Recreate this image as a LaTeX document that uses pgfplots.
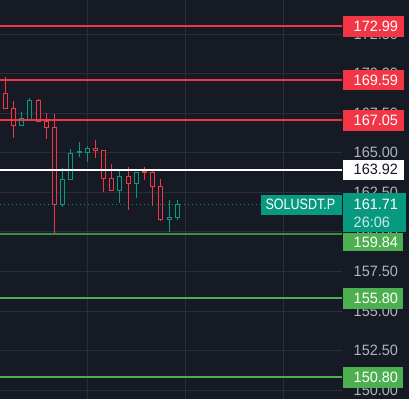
\documentclass[border=0pt]{standalone}
\usepackage{pgfplots}
\pgfplotsset{compat=1.18}
\usepackage{fontspec}
\setmainfont{Liberation Sans}
\newfontfamily\numfont[FakeStretch=0.965]{Liberation Sans}
\newfontfamily\symfont[FakeStretch=0.835]{Liberation Sans}
\definecolor{bgc}{HTML}{161A25}
\definecolor{gridc}{HTML}{2A2E39}
\definecolor{redc}{HTML}{F23645}
\definecolor{tealc}{HTML}{089981}
\definecolor{greenc}{HTML}{4CAF50}
\definecolor{greend}{HTML}{3E8E41}
\definecolor{tickc}{HTML}{B2B5BE}
\definecolor{darktxt}{HTML}{131722}
\newcommand\numf{\numfont\fontsize{15bp}{18bp}\selectfont}
\newcommand\symf{\symfont\fontsize{15bp}{18bp}\selectfont}
% x, open, high, low, close, colour
\newcommand\candle[6]{%
  \addplot[#6, line width=1bp, forget plot] coordinates {(#1,#4) (#1,#3)};
  \pgfmathsetmacro\xl{#1-0.244}\pgfmathsetmacro\xr{#1+0.244}%
  \addplot[draw=#6, fill=bgc, line width=1bp, line cap=rect, line join=miter, forget plot]
    coordinates {(\xl,#2) (\xr,#2) (\xr,#5) (\xl,#5) (\xl,#2)};
}
\begin{document}
\begin{tikzpicture}
\path[use as bounding box, fill=bgc] (0,0) rectangle (409bp,399bp);
\begin{axis}[
  at={(0,0)}, anchor=south west,
  scale only axis, width=342bp, height=399bp,
  xmin=-0.647, xmax=41.11, ymin=149.44, ymax=174.65,
  axis line style={draw=none},
  tick style={draw=none},
  major tick length=0pt,
  xtick={10,22,34}, xticklabels={},
  ytick={150,152.5,155,157.5,160,162.5,165,167.5,170,172.5},
  grid=major, grid style={gridc, line width=1bp},
  yticklabel pos=right,
  yticklabel style={anchor=west, inner sep=0pt, xshift=11.5bp, text=tickc, font=\numf},
  /pgf/number format/.cd, fixed, fixed zerofill, precision=2, assume math mode=true,
]
\candle{0}{168.75}{169.80}{167.80}{167.80}{redc}
\candle{1}{167.80}{168.27}{165.95}{166.71}{redc}
\candle{2}{166.71}{167.57}{166.71}{167.17}{tealc}
\candle{3}{167.13}{168.45}{167.13}{168.33}{tealc}
\candle{4}{168.33}{168.41}{166.96}{166.96}{redc}
\candle{5}{167.00}{167.53}{165.87}{166.58}{redc}
\candle{6}{166.61}{167.45}{159.92}{161.75}{redc}
\candle{7}{161.75}{164.02}{161.60}{163.33}{tealc}
\candle{8}{163.33}{165.24}{163.33}{164.97}{tealc}
\candle{9}{165.03}{165.68}{164.75}{165.07}{tealc}
\candle{10}{165.03}{165.43}{164.44}{165.28}{tealc}
\candle{11}{165.28}{165.81}{164.69}{165.13}{redc}
\candle{12}{165.13}{165.13}{162.55}{163.39}{redc}
\candle{13}{163.37}{164.29}{162.63}{162.63}{redc}
\candle{14}{162.63}{163.90}{161.81}{163.52}{tealc}
\candle{15}{163.52}{164.08}{161.39}{163.08}{redc}
\candle{16}{163.08}{163.80}{162.17}{163.77}{tealc}
\candle{17}{163.79}{164.12}{163.30}{163.73}{redc}
\candle{18}{163.77}{163.90}{161.66}{162.89}{redc}
\candle{19}{162.89}{163.33}{160.68}{160.81}{redc}
\candle{20}{160.81}{162.02}{160.02}{160.93}{tealc}
\candle{21}{160.93}{162.02}{160.76}{161.71}{tealc}
% current price dotted line
\addplot[tealc, line width=1.2bp, dash pattern=on 1.2bp off 2.8bp] coordinates {(-0.647,161.71) (31.22,161.71)};
% level lines
\addplot[redc, line width=2bp] coordinates {(-0.647,172.99) (41.11,172.99)};
\addplot[redc, line width=2bp] coordinates {(-0.647,169.59) (41.11,169.59)};
\addplot[redc, line width=2bp] coordinates {(-0.647,167.05) (41.11,167.05)};
\addplot[white, line width=2bp] coordinates {(-0.647,163.92) (41.11,163.92)};
\addplot[greend, line width=2bp] coordinates {(-0.647,159.84) (41.11,159.84)};
\addplot[greenc, line width=2bp] coordinates {(-0.647,155.80) (41.11,155.80)};
\addplot[greenc, line width=2bp] coordinates {(-0.647,150.80) (41.11,150.80)};
\coordinate (r1) at (axis cs:41.11,172.99);
\coordinate (r2) at (axis cs:41.11,169.59);
\coordinate (r3) at (axis cs:41.11,167.05);
\coordinate (w1) at (axis cs:41.11,163.92);
\coordinate (P) at (axis cs:41.11,161.71);
\coordinate (S) at (axis cs:31.22,161.71);
\coordinate (g1) at (axis cs:41.11,159.84);
\coordinate (g2) at (axis cs:41.11,155.80);
\coordinate (g3) at (axis cs:41.11,150.80);
\end{axis}
% red labels
\foreach \c/\t in {r1/172.99, r2/169.59, r3/167.05}{
  \fill[redc] ([xshift=0.7bp,yshift=-10.3bp]\c) rectangle ([xshift=62bp,yshift=10.3bp]\c);
  \node[anchor=west, inner sep=0pt, text=white, font=\numf] at ([xshift=11.5bp]\c) {\t};
}
% white label
\fill[white] ([xshift=0.7bp,yshift=-10bp]w1) rectangle ([xshift=61.5bp,yshift=10bp]w1);
\node[anchor=west, inner sep=0pt, text=darktxt, font=\numf] at ([xshift=11.5bp]w1) {163.92};
% current price label
\fill[tealc] ([xshift=0.7bp,yshift=-26.9bp]P) rectangle ([xshift=63.5bp,yshift=11.5bp]P);
\node[anchor=west, inner sep=0pt, text=white, font=\numf] at ([xshift=11.5bp]P) {161.71};
\node[anchor=west, inner sep=0pt, text=white!78!tealc, font=\numf] at ([xshift=11.5bp,yshift=-17.3bp]P) {26:06};
\fill[tealc] ([yshift=-10bp]S) rectangle ([xshift=80.5bp,yshift=10bp]S);
\node[anchor=west, inner sep=0pt, text=white, font=\symf] at ([xshift=4.4bp,yshift=0.5bp]S) {SOLUSDT.P};
% green labels
\fill[greenc] ([xshift=0.7bp,yshift=-16.6bp]g1) rectangle ([xshift=61bp,yshift=1.1bp]g1);
\node[anchor=west, inner sep=0pt, text=white, font=\numf] at ([xshift=11.5bp,yshift=-8.2bp]g1) {159.84};
\foreach \c/\t in {g2/155.80, g3/150.80}{
  \fill[greenc] ([xshift=0.7bp,yshift=-10.2bp]\c) rectangle ([xshift=61bp,yshift=10.2bp]\c);
  \node[anchor=west, inner sep=0pt, text=white, font=\numf] at ([xshift=11.5bp]\c) {\t};
}
\end{tikzpicture}
\end{document}
